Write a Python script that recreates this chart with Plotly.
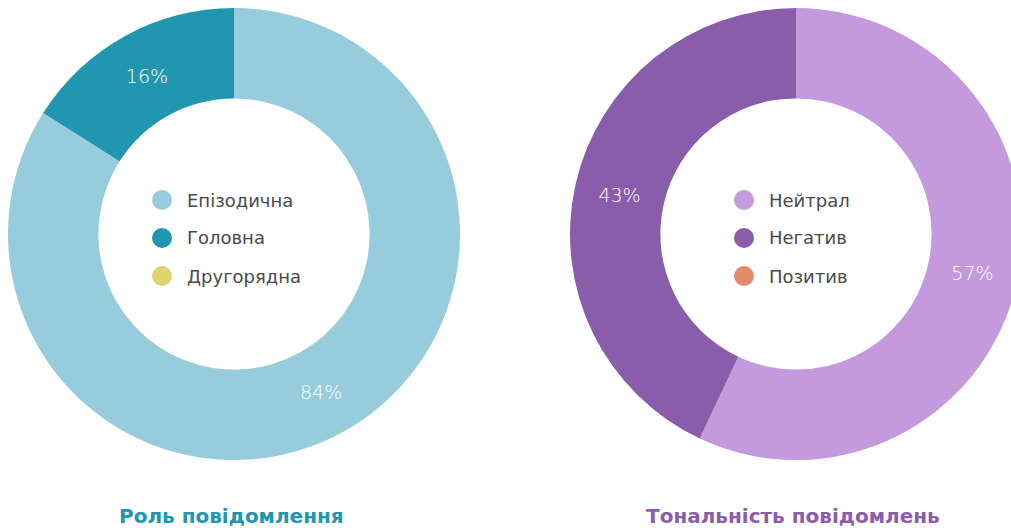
import plotly.graph_objects as go

# ---- data ----
role_labels = ["Епізодична", "Головна", "Другорядна"]
role_values = [84, 16, 0]
role_colors = ["#97CCDC", "#2196B0", "#E0D46E"]

tone_labels = ["Нейтрал", "Негатив", "Позитив"]
tone_values = [57, 43, 0]
tone_colors = ["#C39ADD", "#8A5DAA", "#E28B6B"]

titles = ["Роль повідомлення", "Тональність повідомлень"]
title_colors = ["#2196B0", "#8A5DAA"]

W, H = 1040, 528
FONT = "DejaVu Sans"

def px_x(p):
    return p / W

def px_y(p):
    return 1 - p / H

fig = go.Figure()

domains = [
    dict(x=[px_x(8), px_x(460)], y=[px_y(460), px_y(8)]),
    dict(x=[px_x(570), px_x(1022)], y=[px_y(460), px_y(8)]),
]

for labels, values, colors, dom in [
    (role_labels, role_values, role_colors, domains[0]),
    (tone_labels, tone_values, tone_colors, domains[1]),
]:
    fig.add_trace(go.Pie(
        labels=labels, values=values,
        marker=dict(colors=colors, line=dict(width=0)),
        hole=0.6, sort=False, direction="clockwise", rotation=0,
        domain=dom, showlegend=False,
        texttemplate=["%{percent:.0%}" if v > 0 else "" for v in values],
        textposition="inside", insidetextorientation="horizontal",
        textfont=dict(color="white", size=19, family=FONT, weight=300),
        hoverinfo="label+percent",
    ))

# legends inside the donut holes
legend_pos = [(162, 187), (744, 769)]
row_y = [200, 238, 276]
shapes = []
annotations = []
for (cx, tx), labels, colors in [
    (legend_pos[0], role_labels, role_colors),
    (legend_pos[1], tone_labels, tone_colors),
]:
    for i, (lab, col) in enumerate(zip(labels, colors)):
        yy = px_y(row_y[i])
        shapes.append(dict(
            type="circle", xref="paper", yref="paper",
            xsizemode="pixel", ysizemode="pixel",
            xanchor=px_x(cx), yanchor=yy,
            x0=-10, x1=10, y0=-10, y1=10,
            fillcolor=col, line=dict(width=0),
        ))
        annotations.append(dict(
            text=lab, xref="paper", yref="paper",
            x=px_x(tx - 2), y=yy, xanchor="left", yanchor="middle",
            showarrow=False, font=dict(size=18, color="#4a4a4a", family=FONT),
        ))

title_x = [231, 793]
for t, c, x in zip(titles, title_colors, title_x):
    annotations.append(dict(
        text="<b>" + t + "</b>", xref="paper", yref="paper",
        x=px_x(x), y=px_y(516), xanchor="center", yanchor="middle",
        showarrow=False, font=dict(size=20, color=c, family=FONT),
    ))

fig.update_layout(
    width=W, height=H,
    margin=dict(l=0, r=0, t=0, b=0),
    paper_bgcolor="white", plot_bgcolor="white",
    shapes=shapes, annotations=annotations,
    showlegend=False,
)

fig.write_html(
    "out.html",
    config={"displayModeBar": False},
    post_script="document.body.style.margin='0';document.body.style.overflow='hidden';",
)
